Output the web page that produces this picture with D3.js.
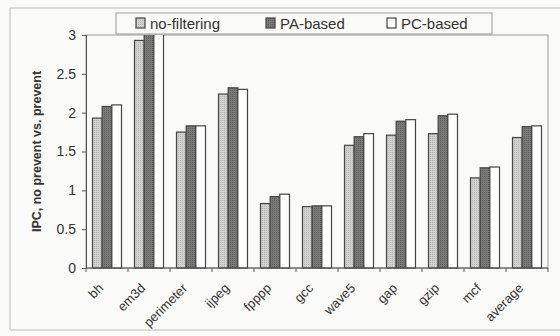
<!DOCTYPE html>
<meta charset="utf-8">
<style>
body { margin: 0; background: #fafaf8; }
text { font-family: "Liberation Sans", Arial, sans-serif; fill: #333; }
</style>
<svg width="560" height="336"></svg>
<script src="https://d3js.org/d3.v7.min.js"></script>
<script>

var categories = ["bh", "em3d", "perimeter", "ijpeg", "fpppp", "gcc", "wave5", "gap", "gzip", "mcf", "average"];
var seriesNames = ["no-filtering", "PA-based", "PC-based"];
var noFiltering = [1.93, 2.93, 1.75, 2.24, 0.83, 0.79, 1.58, 1.71, 1.73, 1.16, 1.68];
var paBased     = [2.08, 3.10, 1.83, 2.32, 0.92, 0.80, 1.69, 1.89, 1.96, 1.29, 1.82];
var pcBased     = [2.10, 3.15, 1.83, 2.30, 0.95, 0.80, 1.73, 1.91, 1.98, 1.30, 1.83];
var yTicks = [0, 0.5, 1, 1.5, 2, 2.5, 3];

var series = [noFiltering, paBased, pcBased];
var fills = ["url(#lightDots)", "url(#darkDots)", "#ffffff"];

var svg = d3.select("svg");
var plotLeft = 86, plotRight = 548, plotTop = 35, plotBottom = 268;

// stippled fills like the scanned print
var defs = svg.append("defs");
var p1 = defs.append("pattern").attr("id", "lightDots").attr("width", 2).attr("height", 2)
  .attr("patternUnits", "userSpaceOnUse");
p1.append("rect").attr("width", 2).attr("height", 2).attr("fill", "#d2d2d0");
p1.append("rect").attr("width", 1).attr("height", 1).attr("fill", "#b4b4b2");
var p2 = defs.append("pattern").attr("id", "darkDots").attr("width", 2).attr("height", 2)
  .attr("patternUnits", "userSpaceOnUse");
p2.append("rect").attr("width", 2).attr("height", 2).attr("fill", "#7a7a78");
p2.append("rect").attr("width", 1).attr("height", 1).attr("fill", "#5e5e5c");

defs.append("clipPath").attr("id", "plotClip")
  .append("rect").attr("x", plotLeft - 2).attr("y", plotTop)
  .attr("width", plotRight - plotLeft + 4).attr("height", plotBottom - plotTop + 2);

// outer frame (top, left and bottom edges)
svg.append("path")
  .attr("d", "M560,8 L10,8 L10,330 L560,330")
  .attr("fill", "none").attr("stroke", "#bbb").attr("stroke-width", 1);

var x = d3.scaleBand().domain(categories).range([plotLeft, plotRight]).paddingInner(0.31).paddingOuter(0.155);
var xs = d3.scaleBand().domain(d3.range(3)).range([0, x.bandwidth()]);
var y = d3.scaleLinear().domain([0, 3]).range([plotBottom, plotTop]);

// plot area frame
svg.append("rect")
  .attr("x", plotLeft).attr("y", plotTop).attr("width", plotRight - plotLeft).attr("height", plotBottom - plotTop)
  .attr("fill", "none").attr("stroke", "#999").attr("stroke-width", 1);

// bars
var bars = svg.append("g").attr("clip-path", "url(#plotClip)");
series.forEach(function(vals, s) {
  bars.selectAll(".b" + s)
    .data(vals)
    .enter().append("rect")
    .attr("class", "b" + s)
    .attr("x", function(d, i) { return x(categories[i]) + xs(s); })
    .attr("y", function(d) { return y(d); })
    .attr("width", xs.bandwidth())
    .attr("height", function(d) { return plotBottom - y(d); })
    .attr("fill", fills[s])
    .attr("stroke", "#444")
    .attr("stroke-width", 1.2);
});

// y axis
var yAxis = svg.append("g").attr("transform", "translate(" + plotLeft + ",0)")
  .call(d3.axisLeft(y).tickValues(yTicks).tickFormat(d3.format("")).tickSize(4).tickPadding(6));
yAxis.select(".domain").attr("stroke", "#555");
yAxis.selectAll("line").attr("stroke", "#555");
yAxis.selectAll("text").attr("font-size", 14).attr("fill", "#333");

// x axis with ticks between groups
var step = (plotRight - plotLeft) / categories.length;
var xAxis = svg.append("g").attr("transform", "translate(0," + plotBottom + ")");
xAxis.append("line").attr("x1", plotLeft).attr("x2", plotRight).attr("stroke", "#555");
xAxis.selectAll(".tk").data(d3.range(categories.length + 1)).enter().append("line")
  .attr("class", "tk")
  .attr("x1", function(i) { return plotLeft + i * step; })
  .attr("x2", function(i) { return plotLeft + i * step; })
  .attr("y1", 0).attr("y2", 4).attr("stroke", "#555");
xAxis.selectAll(".lbl").data(categories).enter().append("text")
  .attr("class", "lbl")
  .attr("transform", function(d) {
    return "translate(" + (x(d) + x.bandwidth() / 2 - 3) + ",21) rotate(-45)";
  })
  .attr("text-anchor", "end")
  .attr("font-size", 13)
  .attr("fill", "#333")
  .text(function(d) { return d; });

// y label
svg.append("text")
  .attr("transform", "translate(41," + ((plotTop + plotBottom) / 2) + ") rotate(-90)")
  .attr("text-anchor", "middle")
  .attr("font-size", 12.5)
  .attr("font-weight", "bold")
  .text("IPC, no prevent vs. prevent");

// legend
var legend = svg.append("g");
legend.append("rect").attr("x", 116).attr("y", 13).attr("width", 376).attr("height", 21)
  .attr("fill", "#fafaf8").attr("stroke", "#999");
var legendX = [136, 266, 387];
seriesNames.forEach(function(name, s) {
  legend.append("rect").attr("x", legendX[s]).attr("y", 18).attr("width", 9).attr("height", 10)
    .attr("fill", fills[s]).attr("stroke", "#444").attr("stroke-width", 1.2);
  legend.append("text").attr("x", legendX[s] + 14).attr("y", 29)
    .attr("font-size", 15).text(name);
});

</script>
